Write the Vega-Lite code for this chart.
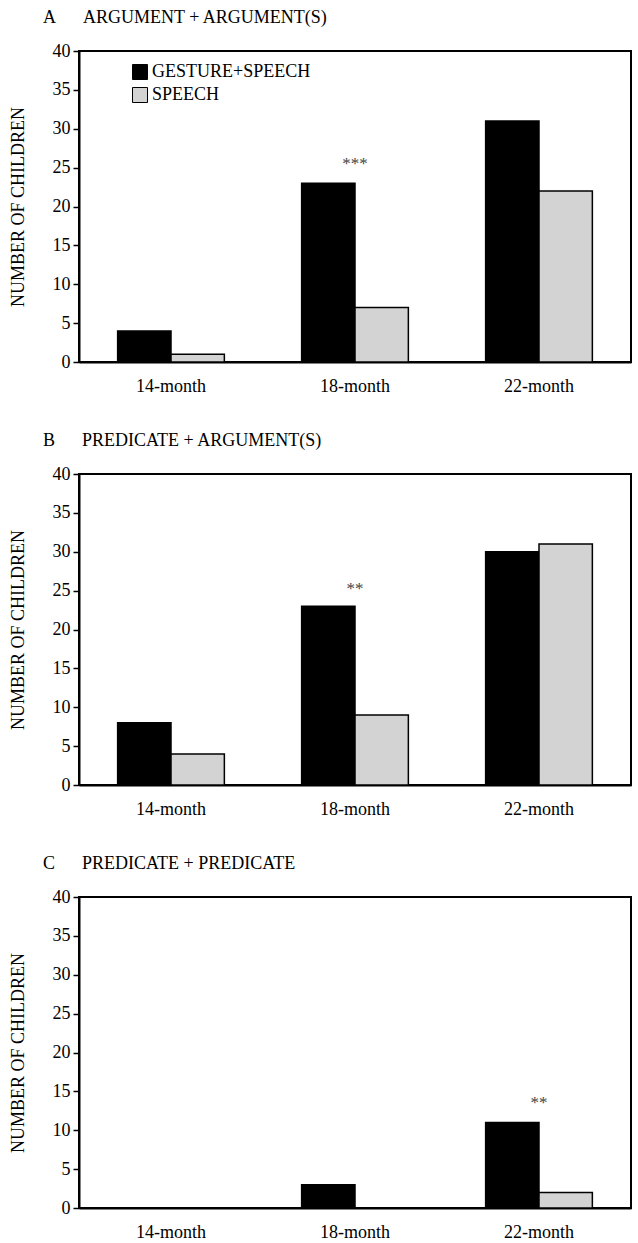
{
  "$schema": "https://vega.github.io/schema/vega-lite/v6.json",
  "padding": {"left": 8, "top": 8, "right": 5, "bottom": 5},
  "background": "#ffffff",
  "config": {
    "font": "Liberation Serif",
    "view": {"stroke": "#000000", "strokeWidth": 2},
    "axis": {"labelFont": "Liberation Serif", "labelFontSize": 18, "labelColor": "#000000", "titleFont": "Liberation Serif", "titleFontSize": 18, "titleFontWeight": "normal", "titleColor": "#000000", "domainColor": "#000000", "domainWidth": 2, "tickColor": "#000000", "tickWidth": 1.5, "grid": false, "labelOverlap": false},
    "title": {"font": "Liberation Serif", "fontSize": 18, "fontWeight": "normal", "anchor": "start", "color": "#000000", "baseline": "alphabetic", "frame": "group"},
    "legend": {"labelFont": "Liberation Serif", "labelFontSize": 18, "labelColor": "#000000", "labelLimit": 300, "symbolType": "square", "symbolSize": 225, "symbolStrokeColor": "#000000", "symbolStrokeWidth": 1, "labelOffset": 3, "rowPadding": 3, "padding": 0, "orient": "none"},
    "concat": {"spacing": 35}
  },
  "datasets": {
    "bars": [
      {"panel": "A", "age": "14-month", "group": "GESTURE+SPEECH", "n": 4},
      {"panel": "A", "age": "14-month", "group": "SPEECH", "n": 1},
      {"panel": "A", "age": "18-month", "group": "GESTURE+SPEECH", "n": 23},
      {"panel": "A", "age": "18-month", "group": "SPEECH", "n": 7},
      {"panel": "A", "age": "22-month", "group": "GESTURE+SPEECH", "n": 31},
      {"panel": "A", "age": "22-month", "group": "SPEECH", "n": 22},
      {"panel": "B", "age": "14-month", "group": "GESTURE+SPEECH", "n": 8},
      {"panel": "B", "age": "14-month", "group": "SPEECH", "n": 4},
      {"panel": "B", "age": "18-month", "group": "GESTURE+SPEECH", "n": 23},
      {"panel": "B", "age": "18-month", "group": "SPEECH", "n": 9},
      {"panel": "B", "age": "22-month", "group": "GESTURE+SPEECH", "n": 30},
      {"panel": "B", "age": "22-month", "group": "SPEECH", "n": 31},
      {"panel": "C", "age": "14-month", "group": "GESTURE+SPEECH", "n": 0},
      {"panel": "C", "age": "14-month", "group": "SPEECH", "n": 0},
      {"panel": "C", "age": "18-month", "group": "GESTURE+SPEECH", "n": 3},
      {"panel": "C", "age": "18-month", "group": "SPEECH", "n": 0},
      {"panel": "C", "age": "22-month", "group": "GESTURE+SPEECH", "n": 11},
      {"panel": "C", "age": "22-month", "group": "SPEECH", "n": 2}
    ],
    "stars": [
      {"panel": "A", "age": "18-month", "pos": 25.5, "label": "***"},
      {"panel": "B", "age": "18-month", "pos": 25.2, "label": "**"},
      {"panel": "C", "age": "22-month", "pos": 13.5, "label": "**"}
    ]
  },
  "vconcat": [
    {
      "title": {"text": "A\u00a0\u00a0\u00a0\u00a0\u00a0\u00a0ARGUMENT + ARGUMENT(S)", "dx": -36, "offset": 15},
      "width": 552, "height": 311,
      "layer": [
        {
          "data": {"name": "bars"},
          "transform": [{"filter": "datum.panel === 'A'"}],
          "mark": {"type": "bar", "stroke": "#000000", "strokeWidth": 1.5},
          "encoding": {
            "x": {"field": "age", "type": "nominal", "sort": ["14-month", "18-month", "22-month"], "scale": {"paddingInner": 0.42, "paddingOuter": 0.21}, "axis": {"title": null, "labelAngle": 0, "ticks": false, "tickSize": 0, "labelPadding": 15}},
            "xOffset": {"field": "group", "type": "nominal", "sort": ["GESTURE+SPEECH", "SPEECH"]},
            "y": {"field": "n", "type": "quantitative", "scale": {"domain": [0, 40]}, "axis": {"title": "NUMBER OF CHILDREN", "values": [0, 5, 10, 15, 20, 25, 30, 35, 40], "tickSize": 6, "labelPadding": 3, "titlePadding": 25}},
            "color": {"field": "group", "type": "nominal", "scale": {"domain": ["GESTURE+SPEECH", "SPEECH"], "range": ["#000000", "#d3d3d3"]}, "legend": {"title": null, "legendX": 52, "legendY": 12}}
          }
        },
        {
          "data": {"name": "stars"},
          "transform": [{"filter": "datum.panel === 'A'"}],
          "mark": {"type": "text", "fontSize": 17, "color": "#444444", "baseline": "middle"},
          "encoding": {
            "x": {"field": "age", "type": "nominal", "sort": ["14-month", "18-month", "22-month"]},
            "y": {"field": "pos", "type": "quantitative", "axis": {"title": "NUMBER OF CHILDREN", "values": [0, 5, 10, 15, 20, 25, 30, 35, 40], "tickSize": 6, "labelPadding": 3, "titlePadding": 25}},
            "text": {"field": "label"}
          }
        }
      ]
    },
    {
      "title": {"text": "B\u00a0\u00a0\u00a0\u00a0\u00a0\u00a0PREDICATE + ARGUMENT(S)", "dx": -36, "offset": 15},
      "width": 552, "height": 311,
      "layer": [
        {
          "data": {"name": "bars"},
          "transform": [{"filter": "datum.panel === 'B'"}],
          "mark": {"type": "bar", "stroke": "#000000", "strokeWidth": 1.5},
          "encoding": {
            "x": {"field": "age", "type": "nominal", "sort": ["14-month", "18-month", "22-month"], "scale": {"paddingInner": 0.42, "paddingOuter": 0.21}, "axis": {"title": null, "labelAngle": 0, "ticks": false, "tickSize": 0, "labelPadding": 15}},
            "xOffset": {"field": "group", "type": "nominal", "sort": ["GESTURE+SPEECH", "SPEECH"]},
            "y": {"field": "n", "type": "quantitative", "scale": {"domain": [0, 40]}, "axis": {"title": "NUMBER OF CHILDREN", "values": [0, 5, 10, 15, 20, 25, 30, 35, 40], "tickSize": 6, "labelPadding": 3, "titlePadding": 25}},
            "color": {"field": "group", "type": "nominal", "scale": {"domain": ["GESTURE+SPEECH", "SPEECH"], "range": ["#000000", "#d3d3d3"]}, "legend": {"title": null, "legendX": 39, "legendY": 9}}
          }
        },
        {
          "data": {"name": "stars"},
          "transform": [{"filter": "datum.panel === 'B'"}],
          "mark": {"type": "text", "fontSize": 17, "color": "#444444", "baseline": "middle"},
          "encoding": {
            "x": {"field": "age", "type": "nominal", "sort": ["14-month", "18-month", "22-month"]},
            "y": {"field": "pos", "type": "quantitative", "axis": {"title": "NUMBER OF CHILDREN", "values": [0, 5, 10, 15, 20, 25, 30, 35, 40], "tickSize": 6, "labelPadding": 3, "titlePadding": 25}},
            "text": {"field": "label"}
          }
        }
      ]
    },
    {
      "title": {"text": "C\u00a0\u00a0\u00a0\u00a0\u00a0\u00a0PREDICATE + PREDICATE", "dx": -36, "offset": 15},
      "width": 552, "height": 311,
      "layer": [
        {
          "data": {"name": "bars"},
          "transform": [{"filter": "datum.panel === 'C'"}],
          "mark": {"type": "bar", "stroke": "#000000", "strokeWidth": 1.5},
          "encoding": {
            "x": {"field": "age", "type": "nominal", "sort": ["14-month", "18-month", "22-month"], "scale": {"paddingInner": 0.42, "paddingOuter": 0.21}, "axis": {"title": null, "labelAngle": 0, "ticks": false, "tickSize": 0, "labelPadding": 15}},
            "xOffset": {"field": "group", "type": "nominal", "sort": ["GESTURE+SPEECH", "SPEECH"]},
            "y": {"field": "n", "type": "quantitative", "scale": {"domain": [0, 40]}, "axis": {"title": "NUMBER OF CHILDREN", "values": [0, 5, 10, 15, 20, 25, 30, 35, 40], "tickSize": 6, "labelPadding": 3, "titlePadding": 25}},
            "color": {"field": "group", "type": "nominal", "scale": {"domain": ["GESTURE+SPEECH", "SPEECH"], "range": ["#000000", "#d3d3d3"]}, "legend": {"title": null, "legendX": 42, "legendY": 13}}
          }
        },
        {
          "data": {"name": "stars"},
          "transform": [{"filter": "datum.panel === 'C'"}],
          "mark": {"type": "text", "fontSize": 17, "color": "#444444", "baseline": "middle"},
          "encoding": {
            "x": {"field": "age", "type": "nominal", "sort": ["14-month", "18-month", "22-month"]},
            "y": {"field": "pos", "type": "quantitative", "axis": {"title": "NUMBER OF CHILDREN", "values": [0, 5, 10, 15, 20, 25, 30, 35, 40], "tickSize": 6, "labelPadding": 3, "titlePadding": 25}},
            "text": {"field": "label"}
          }
        }
      ]
    }
  ]
}
